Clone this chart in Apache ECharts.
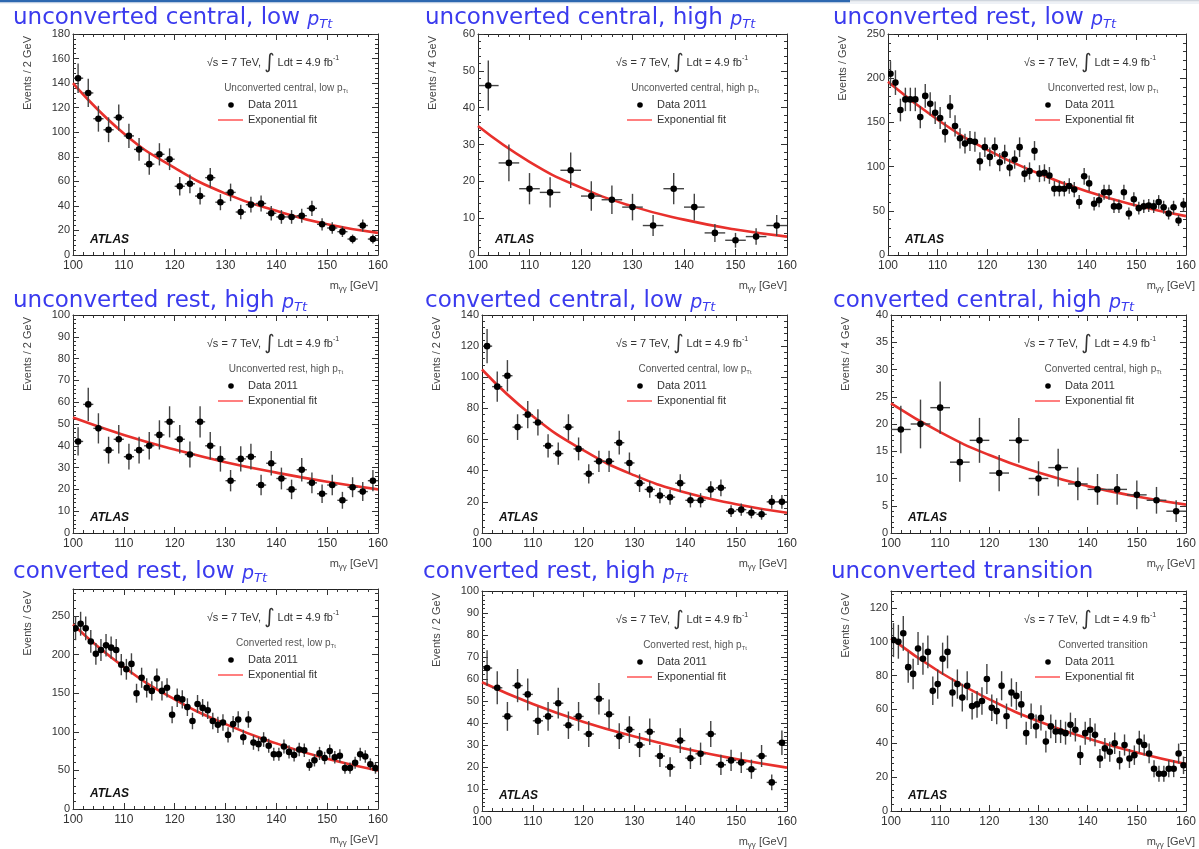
<!DOCTYPE html>
<html><head><meta charset="utf-8">
<script src="https://cdn.jsdelivr.net/npm/echarts@6/dist/echarts.min.js"></script>
<style>html,body{margin:0;padding:0;background:#fff}#c{width:1199px;height:849px;filter:blur(0.45px)}</style>
</head><body><div id="c"></div>
<script>
// ---------- data ----------
const bins1 = [100.5,101.5,102.5,103.5,104.5,105.5,106.5,107.5,108.5,109.5,110.5,111.5,112.5,113.5,114.5,115.5,116.5,117.5,118.5,119.5,120.5,121.5,122.5,123.5,124.5,125.5,126.5,127.5,128.5,129.5,130.5,131.5,132.5,133.5,134.5,135.5,136.5,137.5,138.5,139.5,140.5,141.5,142.5,143.5,144.5,145.5,146.5,147.5,148.5,149.5,150.5,151.5,152.5,153.5,154.5,155.5,156.5,157.5,158.5,159.5];
const bins2 = [101,103,105,107,109,111,113,115,117,119,121,123,125,127,129,131,133,135,137,139,141,143,145,147,149,151,153,155,157,159];
const bins4 = [102,106,110,114,118,122,126,130,134,138,142,146,150,154,158];
const fitX = [100,110,120,130,140,150,160];
const xTickMin = 100, xTickMax = 160, xTickStep = 10;

const ucCentralLow = [144,132,111,102,112,97,86,74,82,78,56,58,48,63,43,51,35,41,42,34,31,31,32,38,25,22,19,13,24,13];
const ucCentralLowFit = [140,99,71,50,36,25,18];

const ucCentralHigh = [46,25,18,17,23,16,15,13,8,18,13,6,4,5,8];
const ucCentralHighFit = [35,25.3,18.3,13.2,9.6,6.9,5];

const ucRestLow = [205,195,164,176,176,176,156,180,171,161,155,139,168,146,132,126,129,128,106,122,111,122,105,114,99,108,122,92,95,118,92,93,90,75,75,75,78,74,60,89,81,58,62,71,71,55,55,71,47,63,53,55,56,55,60,54,47,54,39,57];
const ucRestLowFit = [196,153,119,93,72,56,44];

const ucRestHigh = [42,59,48,38,43,35,38,40,45,51,43,36,51,40,34,24,34,35,22,32,25,20,29,23,18,22,15,21,19,24];
const ucRestHighFit = [53,45,38.3,32.5,27.7,23.5,20];

const cvCentralLow = [120,94,101,68,76,71,56,51,68,54,38,46,46,58,45,32,28,24,23,32,21,21,28,29,14,15,13,12,20,20];
const cvCentralLowFit = [105,75,53,37,26,18.5,13];

const cvCentralHigh = [19,20,23,13,17,11,17,10,12,9,8,8,7,6,4];
const cvCentralHighFit = [23.8,18.5,14.3,11.1,8.6,6.7,5.2];

const cvRestLow = [234,240,234,217,201,206,212,209,206,187,181,188,150,170,157,153,169,153,157,122,144,142,132,114,136,131,128,114,109,112,96,110,116,93,116,86,84,90,82,71,71,81,74,70,77,76,57,63,72,66,75,67,69,53,53,60,71,68,58,53];
const cvRestLowFit = [239,184,142,110,85,65,50];

const cvRestHigh = [65,56,43,57,53,41,43,49,39,43,35,51,44,34,37,30,36,25,20,32,24,26,35,21,23,22,19,25,13,31];
const cvRestHighFit = [58.5,48.6,40.5,33.9,28.3,23.6,19.7];

const ucTransition = [101,100,105,85,81,96,90,94,71,75,90,94,70,75,67,74,62,63,65,78,61,59,74,56,70,68,63,46,56,50,55,41,50,47,47,46,51,48,33,46,48,45,31,37,35,40,30,39,31,33,41,39,34,25,22,22,25,25,34,27];
const ucTransitionFit = [102,82,66,53,43,34.5,27.7];

const panelTitles = ['unconverted central, low','unconverted central, high','unconverted rest, low','unconverted rest, high','converted central, low','converted central, high','converted rest, low','converted rest, high','unconverted transition'];
const panelCats = ['Unconverted central, low','Unconverted central, high','Unconverted rest, low','Unconverted rest, high','Converted central, low','Converted central, high','Converted rest, low','Converted rest, high','Converted transition'];
const yNames = ['Events / 2 GeV','Events / 4 GeV','Events / GeV','Events / 2 GeV','Events / 2 GeV','Events / 4 GeV','Events / GeV','Events / 2 GeV','Events / GeV'];
const yMaxes = [180,60,250,100,140,40,285,100,130];
const ySteps = [20,10,50,10,20,5,50,10,20];

// ---------- layout ----------
const panels = [
  {x:bins2, y:ucCentralLow,  w:2, fit:ucCentralLowFit,  rect:[73,34,305,221],  tx:13,  ty:2,   pTt:true},
  {x:bins4, y:ucCentralHigh, w:4, fit:ucCentralHighFit, rect:[478,34,309,221], tx:425, ty:2,   pTt:true},
  {x:bins1, y:ucRestLow,     w:1, fit:ucRestLowFit,     rect:[888,34,307,221], tx:833, ty:2,   pTt:true},
  {x:bins2, y:ucRestHigh,    w:2, fit:ucRestHighFit,    rect:[73,315,305,218], tx:13,  ty:285, pTt:true},
  {x:bins2, y:cvCentralLow,  w:2, fit:cvCentralLowFit,  rect:[482,315,305,218],tx:425, ty:285, pTt:true},
  {x:bins4, y:cvCentralHigh, w:4, fit:cvCentralHighFit, rect:[891,315,304,218],tx:833, ty:285, pTt:true},
  {x:bins1, y:cvRestLow,     w:1, fit:cvRestLowFit,     rect:[73,589,305,220], tx:13,  ty:556, pTt:true},
  {x:bins2, y:cvRestHigh,    w:2, fit:cvRestHighFit,    rect:[482,591,305,220],tx:423, ty:556, pTt:true},
  {x:bins1, y:ucTransition,  w:1, fit:ucTransitionFit,  rect:[891,591,304,220],tx:831, ty:556, pTt:false}
];

const BLUE = '#3a3aee';
const SANS = 'Liberation Sans';

function errRender(binW){
  return function(params, api){
    const x = api.value(0), y = api.value(1);
    const e = Math.sqrt(y); // Poisson error bar
    const c = api.coord([x, y]);
    const t = api.coord([x, y + e]);
    const b = api.coord([x, Math.max(y - e, 0)]);
    const l = api.coord([x - binW/2, y]);
    const r = api.coord([x + binW/2, y]);
    return {type:'group', children:[
      {type:'line', shape:{x1:c[0],y1:t[1],x2:c[0],y2:b[1]}, style:{stroke:'#444', lineWidth:1.4}},
      {type:'line', shape:{x1:l[0],y1:c[1],x2:r[0],y2:c[1]}, style:{stroke:'#444', lineWidth:1.4}},
      {type:'circle', shape:{cx:c[0],cy:c[1],r:3.3}, style:{fill:'#000'}}
    ]};
  };
}

const grid=[], xAxis=[], yAxis=[], series=[], graphic=[];
graphic.push({type:'rect', shape:{x:0,y:0,width:850,height:2.5}, style:{fill:'#2e68b0'}, z:100});
graphic.push({type:'rect', shape:{x:850,y:0,width:349,height:1.5}, style:{fill:'#cfd5dd'}, z:100});
graphic.push({type:'rect', shape:{x:0,y:2.5,width:1199,height:1}, style:{fill:'#dde4ee'}, z:100});

panels.forEach((p,i)=>{
  const [L,T,W,H] = p.rect; const R = L+W, B = T+H;
  grid.push({left:L, top:T, width:W, height:H});
  const axLine = {show:true, onZero:false, lineStyle:{color:'#222', width:1}};
  const tick = {show:true, inside:true, length:6, lineStyle:{color:'#333', width:1}};
  const minor = {show:true, splitNumber:5, length:3, lineStyle:{color:'#333', width:1}};
  xAxis.push({gridIndex:i, type:'value', min:xTickMin, max:xTickMax, interval:xTickStep, position:'bottom',
    axisLine:axLine, axisTick:tick, minorTick:minor, splitLine:{show:false},
    axisLabel:{fontSize:12, color:'#333', margin:5, fontFamily:SANS}});
  xAxis.push({gridIndex:i, type:'value', min:xTickMin, max:xTickMax, interval:xTickStep, position:'top',
    axisLine:axLine, axisTick:tick, minorTick:minor, splitLine:{show:false}, axisLabel:{show:false}});
  const aligned = yMaxes[i] % ySteps[i] === 0;
  yAxis.push({gridIndex:i, type:'value', min:0, max:yMaxes[i], interval:ySteps[i], position:'left',
    axisLine:axLine, axisTick:tick, minorTick:minor, splitLine:{show:false},
    axisLabel:{fontSize:11, color:'#333', margin:3, fontFamily:SANS, showMaxLabel:aligned}});
  yAxis.push({gridIndex:i, type:'value', min:0, max:yMaxes[i], interval:ySteps[i], position:'right',
    axisLine:axLine, axisTick:tick, minorTick:minor, splitLine:{show:false}, axisLabel:{show:false}});
  series.push({type:'line', xAxisIndex:2*i, yAxisIndex:2*i, data:fitX.map((v,k)=>[v,p.fit[k]]),
    smooth:true, showSymbol:false, symbol:'none', lineStyle:{color:'#e8302c', width:2.6}, z:2, clip:true, silent:true});
  series.push({type:'custom', xAxisIndex:2*i, yAxisIndex:2*i, data:p.x.map((v,k)=>[v,p.y[k]]),
    renderItem:errRender(p.w), clip:true, z:3, silent:true});

  // panel title
  graphic.push({type:'text', x:p.tx, y:p.ty, z:100, style:{
    text: panelTitles[i] + (p.pTt ? ' {p|p}{s|Tt}' : ''),
    fill:BLUE, fontSize:23, fontFamily:'DejaVu Sans', lineHeight:32,
    align:'left', verticalAlign:'top', textAlign:'left', textVerticalAlign:'top',
    rich:{
      p:{fill:BLUE, fontSize:19, fontStyle:'italic', fontFamily:'DejaVu Sans', lineHeight:20, padding:[4,0,0,0]},
      s:{fill:BLUE, fontSize:13, fontStyle:'italic', fontFamily:'DejaVu Sans', lineHeight:14, padding:[14,0,0,0]}
    }}});
  // legend block
  graphic.push({type:'text', x:R-105, y:T+29, z:100, style:{
    text:'√s = 7 TeV, {i|∫} Ldt = 4.9 fb{u|-1}', fill:'#333', fontSize:11, fontFamily:SANS,
    align:'center', verticalAlign:'middle', textAlign:'center', textVerticalAlign:'middle',
    rich:{ i:{fill:'#333', fontSize:20, fontFamily:'DejaVu Sans'}, u:{fill:'#333', fontSize:7, fontFamily:SANS, padding:[0,0,9,0]} }}});
  graphic.push({type:'text', x:R-92, y:T+54, z:100, style:{
    text: panelCats[i] + (p.pTt ? ' p{s|Tt}' : ''), fill:'#555', fontSize:10, fontFamily:SANS,
    align:'center', verticalAlign:'middle', textAlign:'center', textVerticalAlign:'middle',
    rich:{ s:{fill:'#555', fontSize:6, fontFamily:SANS, padding:[6,0,0,0]} }}});
  graphic.push({type:'circle', shape:{cx:R-147, cy:T+71, r:2.8}, style:{fill:'#000'}, z:100});
  graphic.push({type:'text', x:R-130, y:T+71, z:100, style:{text:'Data 2011', fill:'#333', fontSize:11, fontFamily:SANS,
    align:'left', verticalAlign:'middle', textAlign:'left', textVerticalAlign:'middle'}});
  graphic.push({type:'line', shape:{x1:R-160, y1:T+86, x2:R-135, y2:T+86}, style:{stroke:'#ff5555', lineWidth:1.5}, z:100});
  graphic.push({type:'text', x:R-130, y:T+86, z:100, style:{text:'Exponential fit', fill:'#333', fontSize:11, fontFamily:SANS,
    align:'left', verticalAlign:'middle', textAlign:'left', textVerticalAlign:'middle'}});
  // ATLAS
  graphic.push({type:'text', x:L+17, y:B-15, z:100, style:{text:'ATLAS', fill:'#111', fontSize:12, fontWeight:'bold', fontStyle:'italic', fontFamily:SANS,
    align:'left', verticalAlign:'middle', textAlign:'left', textVerticalAlign:'middle'}});
  // axis names
  graphic.push({type:'text', x:L-45, y:T+2, rotation:Math.PI/2, z:100, style:{text:yNames[i], fill:'#444', fontSize:11, fontFamily:SANS,
    align:'right', verticalAlign:'middle', textAlign:'right', textVerticalAlign:'middle'}});
  graphic.push({type:'text', x:R, y:B+31, z:100, style:{text:'m{s|γγ} [GeV]', fill:'#444', fontSize:11, fontFamily:SANS,
    align:'right', verticalAlign:'middle', textAlign:'right', textVerticalAlign:'middle',
    rich:{ s:{fill:'#444', fontSize:8, fontFamily:SANS, padding:[6,0,0,0]} }}});
});

const chart = echarts.init(document.getElementById('c'), null, {renderer:'canvas'});
chart.setOption({backgroundColor:'#fff', animation:false, grid, xAxis, yAxis, series, graphic});
</script>
</body></html>
